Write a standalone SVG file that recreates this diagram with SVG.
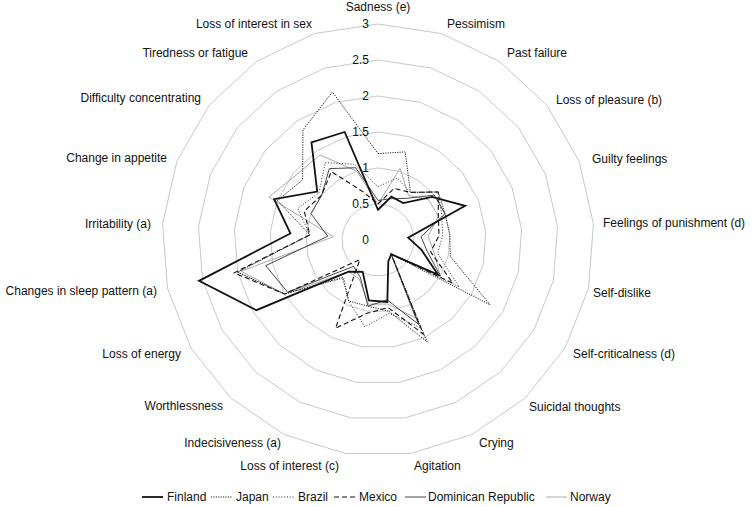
<svg xmlns="http://www.w3.org/2000/svg" xmlns:xlink="http://www.w3.org/1999/xlink" width="753" height="507" viewBox="0 0 753 507">
<style>
text{font-family:"Liberation Sans",Arial,sans-serif;font-size:12px;fill:#111}
.ring{fill:none;stroke:#c8c8c8;stroke-width:1;vector-effect:non-scaling-stroke}
.s{fill:none;stroke-linejoin:miter}
.fin{stroke:#111;stroke-width:1.8}
.jpn{stroke:#222;stroke-width:1;stroke-dasharray:1.2 1.2}
.bra{stroke:#333;stroke-width:1;stroke-dasharray:1 1.8}
.mex{stroke:#111;stroke-width:1.1;stroke-dasharray:5 3}
.dom{stroke:#333;stroke-width:0.9}
.nor{stroke:#aaa;stroke-width:1}
</style>
<defs>
<polygon id="ring" class="ring" points="0,-72 21.23,-68.8 40.56,-59.49 56.29,-44.89 67.02,-26.3 71.8,-5.38 70.19,16.02 62.35,36 48.97,52.78 31.24,64.87 10.73,71.19 -10.73,71.19 -31.24,64.87 -48.97,52.78 -62.35,36 -70.19,16.02 -71.8,-5.38 -67.02,-26.3 -56.29,-44.89 -40.56,-59.49 -21.23,-68.8"/>
</defs>
<g id="grid" transform="translate(378,240)">
<use xlink:href="#ring" transform="scale(0.5)"/>
<use xlink:href="#ring" transform="scale(1)"/>
<use xlink:href="#ring" transform="scale(1.5)"/>
<use xlink:href="#ring" transform="scale(2)"/>
<use xlink:href="#ring" transform="scale(2.5)"/>
<use xlink:href="#ring" transform="scale(3)"/>
</g>
<g id="ticks" text-anchor="end">
<text x="369" y="244">0</text>
<text x="369" y="208">0.5</text>
<text x="369" y="172">1</text>
<text x="369" y="136">1.5</text>
<text x="369" y="100">2</text>
<text x="369" y="64">2.5</text>
<text x="369" y="28">3</text>
</g>
<g id="connectors" transform="translate(378,240)">
<polygon id="norway" class="s nor" points="0,-36 22.08,-71.55 30.42,-44.62 50.66,-40.4 60.32,-23.67 50.26,-3.77 56.15,12.82 62.35,36 13.22,14.25 37.49,77.84 9.66,64.07 -9.66,64.07 -18.74,38.92 -29.38,31.67 -93.53,54 -136.87,31.24 -44.52,-3.34 -109.24,-42.87 -81.62,-65.09 -58,-85.07 -21.23,-68.8"/>
<polygon id="dominican" class="s dom" points="0,-39.6 12.74,-41.28 28.39,-41.64 56.29,-44.89 67.02,-26.3 43.08,-3.23 49.13,11.21 62.35,36 13.22,14.25 40.61,84.33 9.01,59.8 -9.98,66.21 -17.81,36.98 -24.49,26.39 -90.41,52.2 -112.3,25.63 -50.26,-3.77 -67.02,-26.3 -56.29,-44.89 -48.67,-71.39 -22.29,-72.24"/>
<polygon id="mexico" class="s mex" points="0,-36 15.92,-51.6 32.45,-47.59 60.23,-48.03 60.32,-23.67 61.03,-4.57 52.64,12.02 74.82,43.2 13.22,14.25 45.3,94.06 10.19,67.63 -11.05,73.33 -42.49,88.22 -18.12,19.53 -93.53,54 -143.89,32.84 -68.21,-5.11 -73.72,-28.93 -56.29,-44.89 -46.64,-68.41 -14.86,-48.16"/>
<polygon id="brazil" class="s bra" points="0,-53.28 19.11,-61.92 32.45,-47.59 60.23,-48.03 63.67,-24.99 64.62,-4.84 59.66,13.62 81.06,46.8 13.22,14.25 42.17,87.57 11.05,73.33 -13.09,86.85 -29.37,60.98 -34.28,36.95 -93.53,54 -140.38,32.04 -68.21,-5.11 -80.42,-31.56 -59.1,-47.13 -52.73,-77.34 -23.35,-75.68"/>
<polygon id="japan" class="s jpn" points="0,-86.4 27.17,-88.06 32.45,-47.59 60.23,-48.03 67.02,-26.3 71.8,-5.38 72.3,16.5 112.23,64.8 13.22,14.25 49.05,101.85 10.73,71.19 -9.98,66.21 -29.37,60.98 -35.26,38 -93.53,54 -140.38,32.04 -68.21,-5.11 -100.53,-39.45 -75.43,-60.15 -75.04,-110.06 -45.64,-147.92"/>
<polygon id="finland" class="s fin" points="0,-30.24 13.37,-43.34 25.15,-36.88 54.04,-43.09 87.13,-34.19 30.16,-2.26 43.52,9.93 59.86,34.56 13.22,14.25 10.31,21.41 9.34,61.94 -9.12,60.51 -15.31,31.79 -29.38,31.67 -121.58,70.2 -178.98,40.85 -87.6,-6.56 -103.88,-40.77 -60.79,-48.48 -66.52,-97.56 -33.33,-108.02"/>
</g>
<g id="labels">
<text x="378" y="11" text-anchor="middle">Sadness (e)</text>
<text x="447" y="28">Pessimism</text>
<text x="507" y="57">Past failure</text>
<text x="556" y="104">Loss of pleasure (b)</text>
<text x="592" y="163">Guilty feelings</text>
<text x="603" y="227">Feelings of punishment (d)</text>
<text x="593" y="297">Self-dislike</text>
<text x="573" y="358">Self-criticalness (d)</text>
<text x="529" y="411">Suicidal thoughts</text>
<text x="479" y="447">Crying</text>
<text x="414" y="470">Agitation</text>
<text x="339" y="470" text-anchor="end">Loss of interest (c)</text>
<text x="281" y="447" text-anchor="end">Indecisiveness (a)</text>
<text x="223" y="410" text-anchor="end">Worthlessness</text>
<text x="181" y="358" text-anchor="end">Loss of energy</text>
<text x="157" y="295" text-anchor="end">Changes in sleep pattern (a)</text>
<text x="151" y="228" text-anchor="end">Irritability (a)</text>
<text x="167" y="162" text-anchor="end">Change in appetite</text>
<text x="201" y="102" text-anchor="end">Difficulty concentrating</text>
<text x="248" y="57" text-anchor="end">Tiredness or fatigue</text>
<text x="312" y="28" text-anchor="end">Loss of interest in sex</text>
</g>
<g id="legend">
<line class="s fin" x1="142" y1="497" x2="163" y2="497"/>
<text x="167" y="501">Finland</text>
<line class="s jpn" x1="211" y1="497" x2="232" y2="497"/>
<text x="236" y="501">Japan</text>
<line class="s bra" x1="273" y1="497" x2="294" y2="497"/>
<text x="298" y="501">Brazil</text>
<line class="s mex" x1="334" y1="497" x2="356" y2="497"/>
<text x="359" y="501">Mexico</text>
<line class="s dom" x1="405" y1="497" x2="426" y2="497"/>
<text x="428" y="501">Dominican Republic</text>
<line class="s nor" x1="546" y1="497" x2="567" y2="497"/>
<text x="570" y="501">Norway</text>
</g>
</svg>
